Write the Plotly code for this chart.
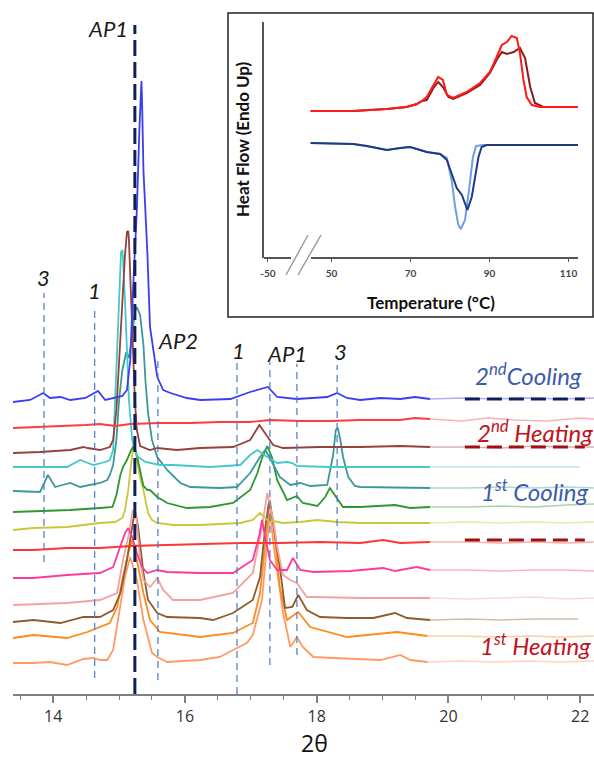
import plotly.graph_objects as go

# ---------------- main XRD data (2theta, stacked intensity, a.u.) ----------------
tt_blue = [13.39,13.65,13.85,13.95,14.11,14.26,14.49,14.68,14.79,14.94,15.05,15.12,15.17,15.21,15.27,15.31,15.34,15.35,15.37,15.43,15.47,15.58,15.67,15.78,16.03,16.23,16.69,16.99,17.26,17.40,17.70,18.16,18.31,18.46,18.66,18.97,19.27,19.49,19.72,20.2,20.7,21.2,21.7,22.21]
int_blue = [292,294,301,296,297,294,296,303,294,296,298,304,334,401,484,567,613,591,524,441,367,317,304,301,296,294,295,302,307,297,295,297,301,296,294,296,295,297,295,296,295,296,295,296]

tt_red1 = [13.39,13.80,14.26,14.49,14.71,14.94,15.17,15.62,16.08,16.53,16.99,17.29,17.75,18.20,18.66,19.27,19.49,19.72,20.2,20.6,21.0,21.5,22.0,22.21]
int_red1 = [266,267,268,269,270,268,270,271,271,272,272,274,273,273,274,274,276,275,273,276,274,273,276,275]

tt_brownred = [13.39,13.80,14.26,14.46,14.52,14.71,14.86,14.91,14.96,15.00,15.05,15.09,15.12,15.14,15.15,15.18,15.21,15.24,15.27,15.32,15.47,15.58,15.88,16.23,16.73,16.99,17.13,17.25,17.34,17.49,18.05,18.66,19.27,19.72,20.3,20.8,21.3,21.8,22.21]
int_brownred = [241,242,244,247,246,244,247,254,284,334,394,439,462,463,454,404,344,294,264,248,244,246,244,246,247,254,269,257,249,246,247,247,248,247,247,246,248,247,247]

tt_cyan = [13.39,13.80,14.21,14.41,14.61,14.79,14.86,14.91,14.94,14.97,15.00,15.03,15.05,15.06,15.09,15.12,15.15,15.20,15.27,15.40,15.62,15.82,16.38,16.84,16.99,17.10,17.25,17.40,17.55,17.63,17.70,18.20,19.72,20.5,21.5,22.0]
int_cyan = [227,227,227,234,229,232,234,244,294,354,404,442,444,436,394,344,294,254,238,232,229,229,227,229,239,244,237,231,232,231,228,227,227,227,227,227]

tt_teal = [13.39,13.65,13.80,13.92,14.03,14.14,14.26,14.41,14.56,14.71,14.82,14.86,14.91,14.96,15.00,15.05,15.11,15.15,15.20,15.24,15.27,15.32,15.37,15.40,15.44,15.50,15.58,15.73,15.93,16.08,16.53,16.79,16.99,17.14,17.22,17.29,17.44,17.60,17.75,17.90,18.16,18.20,18.25,18.29,18.32,18.36,18.40,18.48,18.58,18.66,19.27,19.72,20.3,20.8,21.3,21.8,22.21]
int_teal = [203,202,202,219,207,209,211,207,209,211,214,219,229,254,294,324,342,336,359,382,387,379,349,314,281,254,237,224,211,207,206,207,221,237,244,236,217,209,211,208,209,224,239,264,266,254,237,217,208,207,206,206,206,207,206,207,206]

tt_green = [13.39,13.80,14.26,14.71,14.90,14.96,15.02,15.06,15.12,15.17,15.21,15.26,15.32,15.37,15.43,15.47,15.58,15.73,16.03,16.38,16.73,16.99,17.10,17.17,17.25,17.32,17.40,17.55,17.70,17.79,18.01,18.13,18.20,18.31,18.40,18.66,19.19,19.42,19.72,20.3,20.8,21.3,21.8,22.21]
int_green = [182,183,184,186,187,199,219,227,234,242,247,242,224,208,204,204,197,191,186,187,191,204,221,236,248,237,214,194,198,191,188,197,206,195,187,187,189,186,187,187,188,187,189,190]

tt_yellow = [13.39,13.70,14.21,14.71,14.94,15.05,15.09,15.14,15.18,15.21,15.23,15.26,15.32,15.37,15.44,15.50,15.58,15.82,16.23,16.84,17.03,17.14,17.25,17.49,17.75,18.01,18.31,18.66,19.72,20.3,20.8,21.3,21.8,22.21]
int_yellow = [164,166,167,171,172,176,184,204,229,244,248,239,216,204,181,174,171,169,169,171,174,181,174,171,172,174,172,171,171,172,171,172,171,172]

tt_red2 = [13.39,13.70,14.21,14.71,15.17,15.62,16.23,16.84,17.44,18.05,18.66,19.01,19.27,19.72,20.3,20.8,21.3,21.8,22.21]
int_red2 = [144,144,146,146,148,149,150,151,151,152,151,154,151,152,152,151,152,151,152]

tt_pink = [13.39,13.70,14.21,14.71,14.91,15.02,15.09,15.14,15.20,15.27,15.35,15.43,15.58,15.73,16.23,16.73,17.03,17.13,17.17,17.22,17.29,17.40,17.55,17.64,17.75,17.95,18.51,19.01,19.19,19.52,19.72,20.3,20.8,21.3,21.8,22.21]
int_pink = [116,116,119,121,127,147,161,166,157,141,127,121,124,122,121,121,134,159,174,156,134,124,124,136,124,122,123,126,123,127,124,124,123,124,124,123]

tt_lpink = [13.39,14.21,14.71,14.97,15.06,15.14,15.21,15.26,15.32,15.37,15.47,15.58,15.67,15.82,16.23,16.73,17.03,17.17,17.25,17.34,17.40,17.49,17.60,17.70,17.85,17.95,18.66,19.72,20.3,20.8,21.3,21.8,22.21]
int_lpink = [89,91,94,101,134,157,184,179,134,114,107,116,104,94,94,101,121,167,201,174,147,119,114,111,97,97,96,96,95,96,97,95,96]

tt_brown = [13.39,13.70,14.11,14.46,14.71,14.91,15.02,15.12,15.20,15.24,15.29,15.37,15.44,15.58,15.73,16.23,16.43,16.73,17.03,17.14,17.22,17.28,17.34,17.44,17.52,17.63,17.72,17.85,18.05,18.46,18.86,19.19,19.37,19.72,20.3,20.8,21.3,21.97]
int_brown = [72,74,71,77,77,84,101,134,167,184,167,121,94,81,77,76,74,81,94,117,167,194,171,127,86,87,99,84,77,76,76,81,76,74,75,74,75,75]

tt_orange = [13.39,13.70,14.21,14.52,14.86,14.97,15.06,15.14,15.20,15.27,15.37,15.47,15.62,16.23,16.73,17.03,17.14,17.22,17.29,17.37,17.44,17.55,17.72,17.90,18.46,19.22,19.68,20.2,20.7,21.2,21.7,22.21]
int_orange = [56,59,56,62,71,87,117,141,154,134,101,74,62,57,61,71,101,151,194,154,107,74,82,67,57,62,58,58,57,58,57,58]

tt_lorange = [13.39,13.70,13.95,14.21,14.46,14.61,14.71,14.82,14.91,14.99,15.09,15.17,15.27,15.37,15.50,15.58,15.73,16.23,16.53,16.73,16.94,17.03,17.17,17.25,17.29,17.37,17.49,17.60,17.70,17.79,17.95,18.25,18.97,19.27,19.42,19.68,20.2,20.7,21.2,21.7,22.21]
int_lorange = [31,31,32,29,35,36,34,34,44,77,117,137,114,74,41,37,32,34,37,44,51,59,94,154,181,137,81,47,57,47,37,36,34,39,34,32,33,32,33,32,33]

series = [
    ("#3C3CF5", tt_blue, int_blue),
    ("#FF3B3B", tt_red1, int_red1),
    ("#96413A", tt_brownred, int_brownred),
    ("#45C8C8", tt_cyan, int_cyan),
    ("#3A9898", tt_teal, int_teal),
    ("#2E972E", tt_green, int_green),
    ("#C8C83A", tt_yellow, int_yellow),
    ("#FF3535", tt_red2, int_red2),
    ("#FF3A9A", tt_pink, int_pink),
    ("#F5A0A0", tt_lpink, int_lpink),
    ("#8E5C2C", tt_brown, int_brown),
    ("#FF8A1E", tt_orange, int_orange),
    ("#FF9A66", tt_lorange, int_lorange),
]
for c, a, b in series:
    assert len(a) == len(b), (c, len(a), len(b))

# reference (phase) lines: position, bottom, top (intensity units)
ref_pos = [13.86, 14.63, 15.59, 16.79, 17.29, 17.70, 18.31]
ref_bot = [132, 16, 14, 0, 29, 39, 144]
ref_top = [401, 384, 337, 332, 332, 330, 329]
ap1_pos = 15.24
ap1_top = 669

lab_text = ["AP1", "3", "1", "AP2", "1", "AP1", "3"]
lab_x = [15.16, 13.86, 14.62, 15.90, 16.82, 17.55, 18.36]
lab_y = [666, 417, 404, 354, 344, 341, 343]

# ---------------- DSC inset data ----------------
T_heat1 = [44.7,55.5,64.0,69.0,71.6,72.9,74.1,75.8,77.0,78.2,79.2,80.8,84.2,87.6,90.1,91.8,93.1,94.4,95.6,96.9,97.7,98.6,99.4,100.7,102.8,112.4]
hf_heat1 = [147,147,149,151,154,157,161,173,181,178,163,160,166,175,186,201,213,216,222,220,205,178,161,153,151,151]
T_heat2 = [44.7,55.5,64.0,69.0,71.6,72.9,74.1,75.8,77.0,78.2,79.6,80.8,84.2,87.6,90.1,91.8,93.1,94.4,96.1,97.7,99.0,100.3,101.5,103.6,112.4]
hf_heat2 = [147,147,149,151,154,157,158,170,176,171,161,159,165,173,185,198,206,204,206,210,200,171,155,151,151]
T_cool1 = [44.7,55.5,58.9,64.0,67.4,69.9,74.1,77.5,79.2,80.4,81.7,83.0,84.4,85.5,86.3,87.2,88.0,89.3,112.4]
hf_cool1 = [115,114,112,108,110,111,106,104,98,85,70,63,48,61,78,101,111,113,113]
T_cool2 = [44.7,55.5,58.9,64.0,67.4,69.9,74.1,77.5,79.2,80.4,81.3,82.1,82.7,83.8,84.9,85.8,86.6,88.5,112.4]
hf_cool2 = [115,114,112,108,110,111,106,104,100,78,51,33,29,38,71,101,112,113,113]
inset_tickvals = [33.9, 50, 70, 90, 110]
inset_ticktext = ["-50", "50", "70", "90", "110"]

FADE_AT = 19.72
fig = go.Figure()
for color, tt, yy in reversed(series):
    idx = max(i for i, t in enumerate(tt) if t <= FADE_AT)
    fig.add_trace(go.Scatter(x=tt[:idx + 1], y=yy[:idx + 1], mode="lines",
                             line=dict(color=color, width=1.8), hoverinfo="skip"))
    fig.add_trace(go.Scatter(x=tt[idx:], y=yy[idx:], mode="lines", opacity=0.4,
                             line=dict(color=color, width=1.6), hoverinfo="skip"))

for T, hf, col in [(T_cool2, hf_cool2, "#6F9EE8"), (T_cool1, hf_cool1, "#1F3A80"),
                   (T_heat2, hf_heat2, "#8C1C1C"), (T_heat1, hf_heat1, "#FF1A1A")]:
    fig.add_trace(go.Scatter(x=T, y=hf, mode="lines", xaxis="x2", yaxis="y2",
                             line=dict(color=col, width=2), hoverinfo="skip"))

shapes = []
L, W, H = 13, 581, 694
def px(x):
    return (x - L) / W
def py(y):
    return (H - y) / H

# inset frame
shapes.append(dict(type="rect", xref="paper", yref="paper", x0=px(228), x1=px(593), y0=py(317), y1=py(13),
                   line=dict(color="#222", width=1.5), fillcolor="white", layer="below"))
# inset x-axis segments with break
for a, b in [(264, 291), (311, 578)]:
    shapes.append(dict(type="line", xref="paper", yref="paper", x0=px(a), x1=px(b), y0=py(258), y1=py(258),
                       line=dict(color="#555", width=2), layer="above"))
for a, b in [((286, 275), (308, 235)), ((298, 275), (321, 235))]:
    shapes.append(dict(type="line", xref="paper", yref="paper", x0=px(a[0]), y0=py(a[1]), x1=px(b[0]), y1=py(b[1]),
                       line=dict(color="#999", width=1.4), layer="above"))

# reference dashed lines
for p, b, t in zip(ref_pos, ref_bot, ref_top):
    shapes.append(dict(type="line", xref="x", yref="y", x0=p, x1=p, y0=b, y1=t,
                       line=dict(color="#4A78C8", width=1.2, dash="7px,5px"), layer="above"))
shapes.append(dict(type="line", xref="x", yref="y", x0=ap1_pos, x1=ap1_pos, y0=0, y1=ap1_top,
                   line=dict(color="#0F1F5A", width=3, dash="16px,6px"), layer="above"))
# legend-like dashes
for yv, col in [(295, "#0F1F5A"), (247, "#A01010"), (154, "#A01010")]:
    shapes.append(dict(type="line", xref="x", yref="y", x0=20.25, x1=22.07, y0=yv, y1=yv,
                       line=dict(color=col, width=3, dash="15px,7px"), layer="above"))

ann = []
FONT = "Lato, 'Open Sans', sans-serif"
for t, x, y in zip(lab_text, lab_x, lab_y):
    ann.append(dict(x=x, y=y, xref="x", yref="y", text=t, showarrow=False,
                    xanchor="right" if t == "AP1" and x < 16 else "center", yanchor="middle",
                    font=dict(family=FONT, size=22, color="#1A1A1A", style="italic")))
for txt, x, y, col in [("2<sup>nd</sup>Cooling", 21.22, 320, "#3D5BAA"),
                       ("2<sup>nd</sup> Heating", 21.32, 263, "#C0141C"),
                       ("1<sup>st</sup> Cooling", 21.30, 204, "#3D5BAA"),
                       ("1<sup>st</sup> Heating", 21.32, 50, "#C0141C")]:
    ann.append(dict(x=x, y=y, xref="x", yref="y", text=txt, showarrow=False, xanchor="center", yanchor="middle",
                    font=dict(family=FONT, size=24, color=col, style="italic")))
ann.append(dict(x=px(314), y=py(743), xref="paper", yref="paper", text="2θ", showarrow=False, borderpad=0,
                xanchor="center", yanchor="middle", font=dict(family="'Open Sans', sans-serif", size=23, color="#111")))
ann.append(dict(x=px(431), y=py(302), xref="paper", yref="paper", text="<b>Temperature (°C)</b>", showarrow=False,
                xanchor="center", yanchor="middle", font=dict(family=FONT, size=17, color="#111")))
ann.append(dict(x=px(243), y=py(139), xref="paper", yref="paper", text="<b>Heat Flow (Endo Up)</b>", showarrow=False,
                textangle=-90, xanchor="center", yanchor="middle", font=dict(family=FONT, size=17, color="#111")))

fig.update_layout(
    width=594, height=758, autosize=False,
    margin=dict(l=L, r=0, t=0, b=758 - H, pad=0),
    paper_bgcolor="white", plot_bgcolor="rgba(0,0,0,0)",
    showlegend=False,
    xaxis=dict(range=[13.39, 22.21], tickmode="linear", tick0=14, dtick=2,
               ticks="outside", ticklen=7, tickwidth=1.5, tickcolor="#808080",
               showline=True, linecolor="#808080", linewidth=2, showgrid=False, zeroline=False,
               minor=dict(tickmode="linear", tick0=0, dtick=0.5, ticks="outside", ticklen=4,
                          tickcolor="#808080", tickwidth=1.2, showgrid=False),
               tickfont=dict(family="'Open Sans', sans-serif", size=16, color="#333")),
    yaxis=dict(range=[0, H], visible=False),
    xaxis2=dict(domain=[px(264), px(578)], anchor="y2", range=[32.9, 112.4],
                tickmode="array", tickvals=inset_tickvals, ticktext=inset_ticktext,
                ticks="outside", ticklen=3, tickcolor="#555", showline=False, showgrid=False, zeroline=False,
                ticklabelstandoff=3,
                tickfont=dict(family=FONT, size=10, color="#444", weight="bold")),
    yaxis2=dict(domain=[py(258), py(22)], anchor="x2", range=[0, 236], showline=True, linecolor="#555",
                linewidth=2, showticklabels=False, ticks="", showgrid=False, zeroline=False),
    shapes=shapes, annotations=ann,
)
fig.write_html("out.html", config={"displayModeBar": False},
               post_script="document.body.style.margin='0';document.body.style.padding='0';"
                           "document.documentElement.style.overflow='hidden';")
